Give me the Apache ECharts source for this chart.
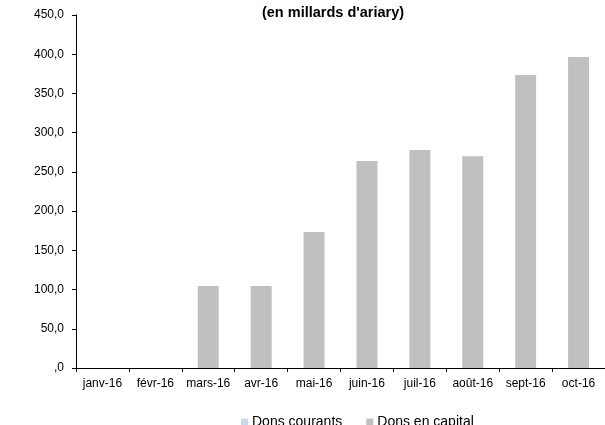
<!DOCTYPE html>
<html>
<head>
<meta charset="utf-8">
<script src="https://cdn.jsdelivr.net/npm/echarts@6/dist/echarts.min.js"></script>
<style>
  html, body { margin: 0; padding: 0; background: #fff; }
  #chart { width: 605px; height: 425px; }
</style>
</head>
<body>
<div id="chart"></div>
<script>
const months = ['janv-16', 'févr-16', 'mars-16', 'avr-16', 'mai-16', 'juin-16', 'juil-16', 'août-16', 'sept-16', 'oct-16']
const donsCourants = [0, 0, 0, 0, 0, 0, 0, 0, 0, 0]
const donsCapital = [0, 0, 104.5, 104.5, 173.5, 264, 278, 270, 373.5, 396.5]

const chart = echarts.init(document.getElementById('chart'))

const axisText = { color: '#000', fontFamily: 'Liberation Sans, Arial', fontSize: 12 }

chart.setOption({
  animation: false,
  title: {
    text: "(en millards d'ariary)",
    left: 328,
    textAlign: 'center',
    top: 0,
    textStyle: { fontFamily: 'Liberation Sans, Arial', fontSize: 14.5, fontWeight: 'bold', color: '#000' }
  },
  legend: {
    data: ['Dons courants', 'Dons en capital'],
    left: 236,
    top: 410,
    itemWidth: 7,
    itemHeight: 7,
    itemGap: 24,
    icon: 'rect',
    textStyle: { fontFamily: 'Liberation Sans, Arial', fontSize: 14, color: '#000', padding: [0, 0, 0, -1] }
  },
  grid: { left: 76, top: 15, width: 534, height: 353 },
  xAxis: {
    type: 'category',
    data: months,
    axisLine: { lineStyle: { color: '#000', width: 1 } },
    axisTick: { show: true, alignWithLabel: false, length: 4, lineStyle: { color: '#000' } },
    axisLabel: { ...axisText, margin: 10, interval: 0 }
  },
  yAxis: {
    type: 'value',
    min: 0,
    max: 450,
    interval: 50,
    axisLine: { show: true, lineStyle: { color: '#000', width: 1 } },
    axisTick: { show: true, length: 4, lineStyle: { color: '#000' } },
    splitLine: { show: false },
    axisLabel: {
      ...axisText,
      margin: 12,
      formatter: v => v === 0 ? ',0' : v.toFixed(1).replace('.', ',')
    }
  },
  series: [
    {
      name: 'Dons courants',
      type: 'bar',
      stack: 'total',
      data: donsCourants,
      barWidth: 21,
      itemStyle: { color: '#c5d9f1' }
    },
    {
      name: 'Dons en capital',
      type: 'bar',
      stack: 'total',
      data: donsCapital,
      barWidth: 21,
      itemStyle: { color: '#c0c0c0' }
    }
  ]
})
</script>
</body>
</html>
